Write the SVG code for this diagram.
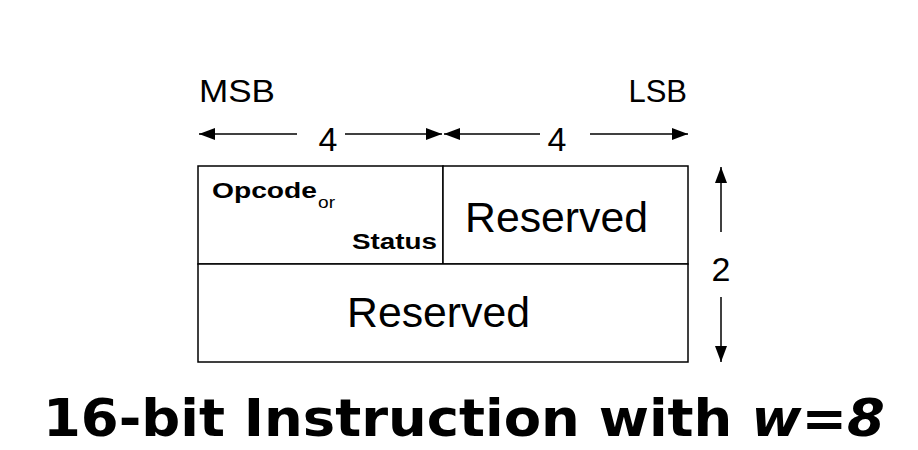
<svg xmlns="http://www.w3.org/2000/svg" width="918" height="450" viewBox="0 0 918 450">
  <defs>
    <marker id="head" viewBox="0 0 16 12" refX="16" refY="6" markerWidth="16" markerHeight="12" markerUnits="userSpaceOnUse" orient="auto-start-reverse">
      <path d="M0,0 L16,6 L0,12 Z" fill="#000"/>
    </marker>
  </defs>
  <style>
    .t { font-family: "Liberation Sans", Arial, sans-serif; fill: #000; }
    .title { font-family: "DejaVu Sans Condensed", "DejaVu Sans", sans-serif; font-stretch: condensed; font-weight: bold; fill: #000; }
    .box { fill: #fff; stroke: #000; stroke-width: 1.5; }
    .ln { stroke: #000; stroke-width: 1.5; fill: none; }
  </style>
  <rect width="918" height="450" fill="#fff"/>

  <g id="labels">
    <text class="t" x="199" y="102" font-size="31" textLength="76" lengthAdjust="spacingAndGlyphs">MSB</text>
    <text class="t" x="687" y="102" font-size="31" text-anchor="end">LSB</text>
    <text class="t" x="328" y="151" font-size="34" text-anchor="middle">4</text>
    <text class="t" x="557" y="151" font-size="34" text-anchor="middle">4</text>
    <text class="t" x="721" y="281" font-size="34" text-anchor="middle">2</text>
  </g>

  <g id="connectors">
    <line class="ln" x1="297" y1="134" x2="199" y2="134" marker-end="url(#head)"/>
    <line class="ln" x1="345" y1="134" x2="442" y2="134" marker-end="url(#head)"/>
    <line class="ln" x1="540" y1="134" x2="444" y2="134" marker-end="url(#head)"/>
    <line class="ln" x1="590" y1="134" x2="688" y2="134" marker-end="url(#head)"/>
    <line class="ln" x1="721" y1="232" x2="721" y2="167" marker-end="url(#head)"/>
    <line class="ln" x1="721" y1="297" x2="721" y2="362" marker-end="url(#head)"/>
  </g>

  <g id="opcode-field">
    <rect class="box" x="198" y="166" width="245" height="98"/>
    <text class="t" x="212" y="198" font-size="22" font-weight="bold" textLength="105" lengthAdjust="spacingAndGlyphs">Opcode</text>
    <text class="t" x="318" y="208" font-size="17" textLength="17" lengthAdjust="spacingAndGlyphs">or</text>
    <text class="t" x="352" y="249" font-size="22" font-weight="bold" textLength="85" lengthAdjust="spacingAndGlyphs">Status</text>
  </g>

  <g id="reserved-high">
    <rect class="box" x="443" y="166" width="245" height="98"/>
    <text class="t" x="465" y="232" font-size="43" textLength="183" lengthAdjust="spacingAndGlyphs">Reserved</text>
  </g>

  <g id="reserved-low">
    <rect class="box" x="198" y="264" width="490" height="98"/>
    <text class="t" x="347" y="327" font-size="43" textLength="183" lengthAdjust="spacingAndGlyphs">Reserved</text>
  </g>

  <g id="title">
    <text class="title" x="43" y="436" font-size="52" textLength="842" lengthAdjust="spacingAndGlyphs">16-bit Instruction with <tspan font-style="italic">w</tspan>=<tspan font-style="italic">8</tspan></text>
  </g>
</svg>
